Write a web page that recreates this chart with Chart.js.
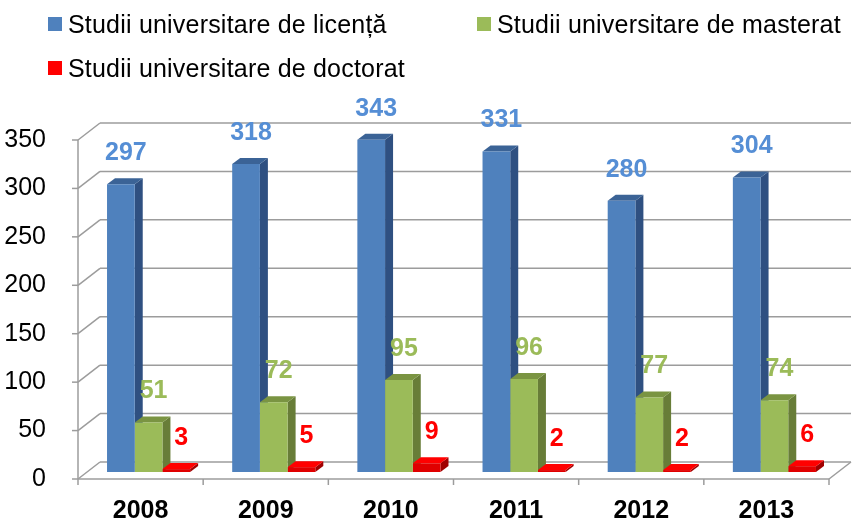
<!DOCTYPE html>
<html>
<head>
<meta charset="utf-8">
<script src="https://cdn.jsdelivr.net/npm/chart.js@4.4.1/dist/chart.umd.min.js"></script>
<style>
    html, body { margin: 0; padding: 0; background: #fff; }
    #wrap { position: relative; width: 854px; height: 520px; }
    #legend { position: absolute; left: 0; top: 0; font-family: "Liberation Sans", Arial, sans-serif; font-size: 25px; color: #000; }
    .item { position: absolute; display: flex; align-items: center; white-space: nowrap; height: 28px; }
    .item i { display: inline-block; width: 14px; height: 14px; margin-right: 6px; }
    .item span { letter-spacing: 0.2px; }
</style>
</head>
<body>
<div id="wrap">
    <canvas id="c" width="854" height="520"></canvas>
    <div id="legend"></div>
</div>
<script>
// --- data ---
const years = ['2008', '2009', '2010', '2011', '2012', '2013'];
const licenta = [297, 318, 343, 331, 280, 304];
const masterat = [51, 72, 95, 96, 77, 74];
const doctorat = [3, 5, 9, 2, 2, 6];
const seriesNames = ['Studii universitare de licență', 'Studii universitare de masterat', 'Studii universitare de doctorat'];
const yTicks = [0, 50, 100, 150, 200, 250, 300, 350];

// colours: front, side, top, label, legend key
const palette = [
    { front: '#4f81bd', side: '#2f5081', top: '#3b6396', label: '#558ed5', key: '#4f81bd' },
    { front: '#9bbb59', side: '#687d38', top: '#7a9442', label: '#9bbb59', key: '#9bbb59' },
    { front: '#e00000', side: '#a00000', top: '#ff0000', label: '#ff0000', key: '#ff0000' }
];

const WALL = { x: 22, y: -17 };   // depth of the 3D box
const BAR_OFF = { x: 8, y: -7 };  // where the bar fronts sit inside the box
const BAR_D = { x: 8, y: -6 };    // depth of each bar

const legendPos = [[48, 10], [477, 10], [48, 54]];
const legendEl = document.getElementById('legend');
seriesNames.forEach((name, i) => {
    const d = document.createElement('div');
    d.className = 'item';
    d.style.left = legendPos[i][0] + 'px';
    d.style.top = legendPos[i][1] + 'px';
    d.innerHTML = `<i style="background:${palette[i].key}"></i><span></span>`;
    d.querySelector('span').textContent = name;
    legendEl.appendChild(d);
});

function line(ctx, x1, y1, x2, y2) {
    ctx.beginPath();
    ctx.moveTo(x1, y1);
    ctx.lineTo(x2, y2);
    ctx.stroke();
}

const frame3d = {
    id: 'frame3d',
    beforeDatasetsDraw(chart) {
        const ctx = chart.ctx;
        const { left: L, right: R } = chart.chartArea;
        const ys = chart.scales.y, xs = chart.scales.x;
        const y0 = ys.getPixelForValue(0);
        ctx.save();
        ctx.strokeStyle = '#9c9c9c';
        ctx.lineWidth = 1.5;
        yTicks.forEach(v => {
            const y = ys.getPixelForValue(v);
            line(ctx, L, y, L + WALL.x, y + WALL.y);
            line(ctx, L + WALL.x, y + WALL.y, R + WALL.x, y + WALL.y);
            line(ctx, L - 6, y, L, y);
        });
        line(ctx, L, y0, L, ys.getPixelForValue(yTicks[yTicks.length - 1]));
        line(ctx, L, y0, R, y0);
        line(ctx, R, y0, R + WALL.x, y0 + WALL.y);
        const half = (xs.getPixelForValue(1) - xs.getPixelForValue(0)) / 2;
        for (let i = 0; i <= years.length; i++) {
            const xb = xs.getPixelForValue(0) - half + i * 2 * half;
            line(ctx, xb, y0, xb, y0 + 6);
        }
        ctx.restore();

        // side and top faces, drawn under the fronts
        ctx.save();
        ctx.translate(BAR_OFF.x, BAR_OFF.y);
        for (let c = 0; c < years.length; c++) {
            chart.data.datasets.forEach((ds, di) => {
                const el = chart.getDatasetMeta(di).data[c];
                const p = palette[di];
                const x1 = el.x - el.width / 2, x2 = el.x + el.width / 2;
                const top = el.y, base = el.base;
                ctx.fillStyle = p.side;
                ctx.beginPath();
                ctx.moveTo(x2, base);
                ctx.lineTo(x2 + BAR_D.x, base + BAR_D.y);
                ctx.lineTo(x2 + BAR_D.x, top + BAR_D.y);
                ctx.lineTo(x2, top);
                ctx.closePath();
                ctx.fill();
                ctx.fillStyle = p.top;
                ctx.beginPath();
                ctx.moveTo(x1, top);
                ctx.lineTo(x1 + BAR_D.x, top + BAR_D.y);
                ctx.lineTo(x2 + BAR_D.x, top + BAR_D.y);
                ctx.lineTo(x2, top);
                ctx.closePath();
                ctx.fill();
            });
        }
        ctx.restore();
        // front faces get drawn by Chart.js inside this shifted frame
        ctx.save();
        ctx.translate(BAR_OFF.x, BAR_OFF.y);
    },
    afterDatasetsDraw(chart) {
        const ctx = chart.ctx;
        ctx.restore();
        ctx.save();
        ctx.font = 'bold 25px "Liberation Sans", Arial, sans-serif';
        ctx.textAlign = 'center';
        ctx.textBaseline = 'middle';
        chart.data.datasets.forEach((ds, di) => {
            chart.getDatasetMeta(di).data.forEach((el, i) => {
                ctx.fillStyle = palette[di].label;
                ctx.fillText(ds.data[i], el.x + BAR_OFF.x + 5, el.y + BAR_OFF.y - 31);
            });
        });
        ctx.restore();
    }
};

new Chart(document.getElementById('c'), {
    type: 'bar',
    data: {
        labels: years,
        datasets: [licenta, masterat, doctorat].map((d, i) => ({
            label: seriesNames[i],
            data: d,
            backgroundColor: palette[i].front,
            borderWidth: 0,
            categoryPercentage: 0.664,
            barPercentage: 1,
            clip: false
        }))
    },
    options: {
        responsive: false,
        animation: false,
        layout: { padding: { top: 140, right: 25, left: 0, bottom: 0 } },
        plugins: { legend: { display: false }, tooltip: { enabled: false } },
        scales: {
            x: {
                grid: { display: false },
                border: { display: false },
                ticks: { color: '#000', font: { family: '"Liberation Sans", Arial, sans-serif', size: 25, weight: 'bold' }, padding: 9 },
                afterFit(scale) { scale.height = 41; }
            },
            y: {
                min: 0,
                max: 350,
                grid: { display: false },
                border: { display: false },
                afterBuildTicks(scale) { scale.ticks = yTicks.map(v => ({ value: v })); },
                ticks: { color: '#000', font: { family: '"Liberation Sans", Arial, sans-serif', size: 25 }, padding: 24 },
                afterFit(scale) { scale.width = 78; }
            }
        }
    },
    plugins: [frame3d]
});
</script>
</body>
</html>
